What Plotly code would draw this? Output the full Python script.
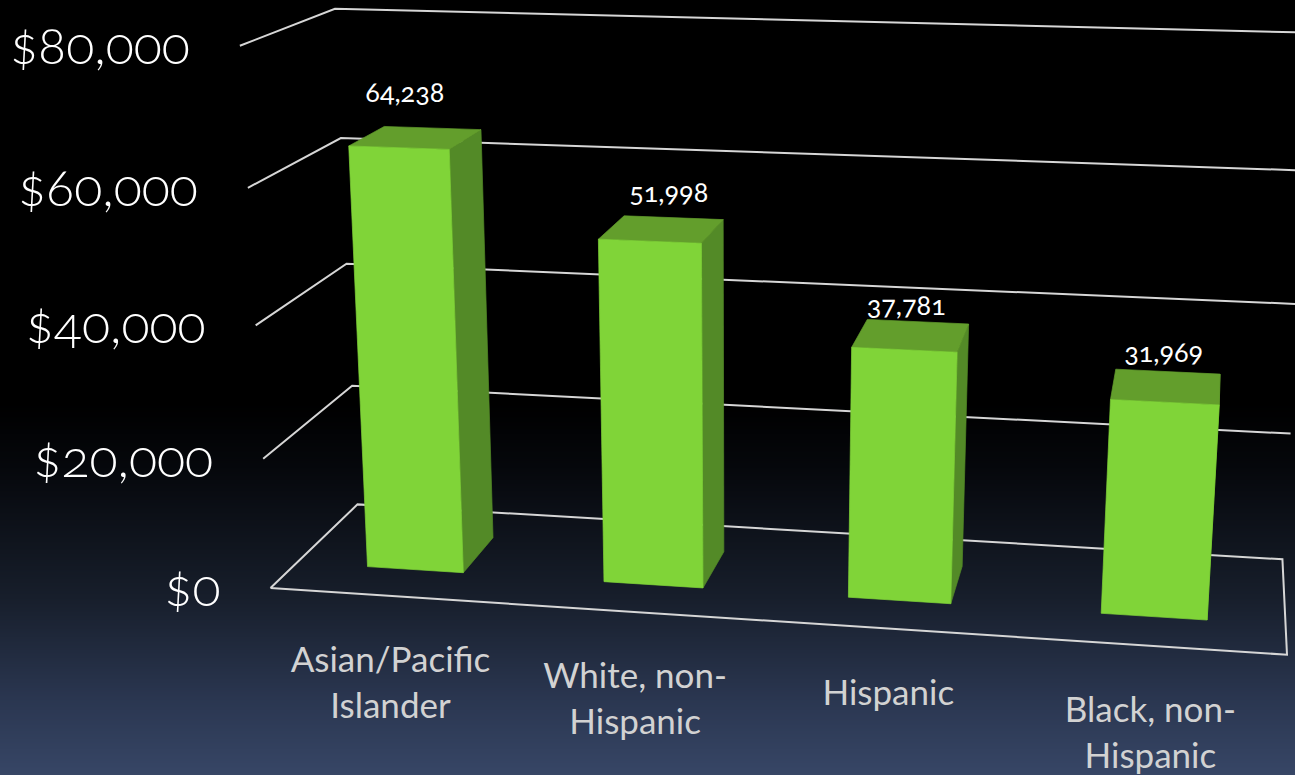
import numpy as np
import plotly.graph_objects as go

# Chart data
categories = ["Asian/Pacific<br>Islander", "White, non-<br>Hispanic", "Hispanic", "Black, non-<br>Hispanic"]
incomes = [64238, 51998, 37781, 31969]
income_labels = ["64,238", "51,998", "37,781", "31,969"]
tick_values = [0, 20000, 40000, 60000, 80000]
tick_labels = ["$0", "$20,000", "$40,000", "$60,000", "$80,000"]

AXIS_MAX = 80000
WIDTH, HEIGHT = 1295, 775

# Camera calibration: box corners (across, depth, height) and where they land on the page
box_points = [(0, 0, 0), (0, 1, 0), (1, 0, 0), (1, 1, 0), (0, 0, 1), (0, 1, 1), (1, 1, 1),
              (0, 0, .5), (0, 1, .5), (1, 1, .5)]
page_points = [(271, 588), (357, 505), (1287, 655), (1282, 560), (240, 46), (334, 9), (1317, 34),
               (255, 325), (348, 263), (1299, 302)]


def solve_camera(world, page):
    rows = []
    for (x, y, z), (u, v) in zip(world, page):
        u, v = u / 1000, v / 1000
        rows.append([x, y, z, 1, 0, 0, 0, 0, -u * x, -u * y, -u * z, -u])
        rows.append([0, 0, 0, 0, x, y, z, 1, -v * x, -v * y, -v * z, -v])
    return np.linalg.svd(np.array(rows))[2][-1].reshape(3, 4)


CAMERA = solve_camera(box_points, page_points)


def project(across, depth, value):
    """Map chart coordinates (0-1 across, 0-1 deep, dollars up) to page pixels."""
    p = CAMERA @ np.array([across, depth, value / AXIS_MAX, 1.0])
    return p[0] / p[2] * 1000, p[1] / p[2] * 1000


def polyline(points):
    xy = [project(*pt) for pt in points]
    return [q[0] for q in xy], [q[1] for q in xy]


fig = go.Figure()

# Slide background: black fading into slate blue towards the bottom
rows = np.arange(0, HEIGHT + 5, 5)
fig.add_trace(go.Heatmap(
    x=[0, WIDTH], y=rows, z=[[r, r] for r in rows], zmin=0, zmax=HEIGHT,
    colorscale=[[0, "#000000"], [0.52, "#000000"], [0.6, "#05070b"], [0.77, "#171e2b"],
                [0.9, "#2a3650"], [1, "#374666"]],
    showscale=False, hoverinfo="skip", zsmooth="best",
))

GRID = "#d6d6d6"
# Wall gridlines run from the front left, to the back left, to the back right
for tick in tick_values[1:]:
    xs, ys = polyline([(0, 0, tick), (0, 1, tick), (1, 1, tick)])
    fig.add_trace(go.Scatter(x=xs, y=ys, mode="lines", line=dict(color=GRID, width=2), hoverinfo="skip"))

# Floor outline
xs, ys = polyline([(0, 0, 0), (0, 1, 0), (1, 1, 0), (1, 0, 0), (0, 0, 0)])
fig.add_trace(go.Scatter(x=xs, y=ys, mode="lines", line=dict(color=GRID, width=2), hoverinfo="skip"))

FRONT, TOP, SIDE = "#80d438", "#639e2c", "#538a27"
HALF_WIDTH = 0.051
NEAR, FAR = 0.29, 0.70
BAR_START, BAR_STEP = 0.1265, 0.2493
bar_centres = [BAR_START + i * BAR_STEP for i in range(len(incomes))]


def face(points, colour):
    xs, ys = polyline(points + points[:1])
    fig.add_trace(go.Scatter(x=xs, y=ys, mode="lines", fill="toself", fillcolor=colour,
                             line=dict(width=0.7, color=colour), hoverinfo="skip"))


for centre, value in zip(bar_centres, incomes):
    left, right = centre - HALF_WIDTH, centre + HALF_WIDTH
    face([(right, NEAR, 0), (right, FAR, 0), (right, FAR, value), (right, NEAR, value)], SIDE)
    face([(left, NEAR, value), (right, NEAR, value), (right, FAR, value), (left, FAR, value)], TOP)
    face([(left, NEAR, 0), (right, NEAR, 0), (right, NEAR, value), (left, NEAR, value)], FRONT)

# Value labels sit above each bar's front top edge
label_nudge = [(6, -52), (19, -46), (2, -42), (-1, -47)]
label_x, label_y = [], []
for i, (centre, value) in enumerate(zip(bar_centres, incomes)):
    cx, cy = project(centre, NEAR, value)
    label_x.append(cx + label_nudge[i][0])
    label_y.append(cy + label_nudge[i][1])
fig.add_trace(go.Scatter(x=label_x, y=label_y, mode="text", text=income_labels, textposition="middle center",
                         textfont=dict(family="Lato", size=27, color="#ffffff"), hoverinfo="skip"))

# Dollar tick labels are right-aligned against the front ends of the gridlines
tick_xy = [project(0, 0, t) for t in tick_values]
fig.add_trace(go.Scatter(x=[q[0] - 50 for q in tick_xy], y=[q[1] + 5 for q in tick_xy], mode="text",
                         text=tick_labels, textposition="middle left",
                         textfont=dict(family="Lato", size=52, weight=300, color="#ffffff"), hoverinfo="skip"))

# Category labels along the front of the floor
cat_x, cat_y = [], []
for centre in bar_centres:
    qx, qy = project(centre, 0, 0)
    cat_x.append(qx - 1)
    cat_y.append(qy + 50)
fig.add_trace(go.Scatter(x=cat_x, y=cat_y, mode="text", text=categories, textposition="bottom center",
                         textfont=dict(family="Lato", size=35, color="#d2d2d2"), hoverinfo="skip"))

fig.update_layout(
    width=WIDTH, height=HEIGHT, margin=dict(l=0, r=0, t=0, b=0), showlegend=False,
    paper_bgcolor="#000000", plot_bgcolor="#000000",
    xaxis=dict(range=[0, WIDTH], visible=False, fixedrange=True),
    yaxis=dict(range=[HEIGHT, 0], visible=False, fixedrange=True),
)

# Old-style figures for all numerals on the slide
oldstyle = ("var s=document.createElement('style');"
            "s.textContent='svg text{font-variant-numeric:oldstyle-nums;font-feature-settings:\"onum\" 1;}';"
            "document.head.appendChild(s);")
fig.write_html("out.html", config=dict(displayModeBar=False), post_script=oldstyle)
